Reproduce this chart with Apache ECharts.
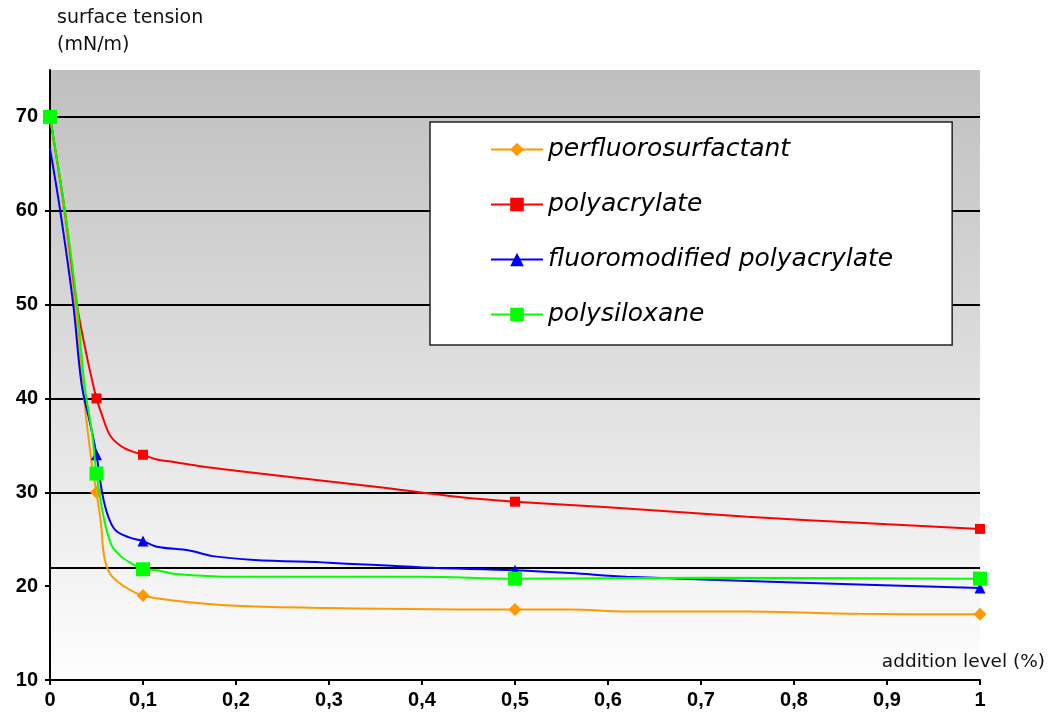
<!DOCTYPE html>
<html>
<head>
<meta charset="utf-8">
<script src="https://cdn.jsdelivr.net/npm/echarts@6/dist/echarts.min.js"></script>
<style>html,body{margin:0;padding:0;background:#fff}#c{width:1055px;height:722px}</style>
</head>
<body>
<div id="c"></div>
<script>
// ---- data ----
const seriesNames = ['perfluorosurfactant', 'polyacrylate', 'fluoromodified polyacrylate', 'polysiloxane'];
const markerX = [0, 0.05, 0.1, 0.5, 1];
const blueMarkerX = [0.05, 0.1, 0.5, 1];

const perfluoroCurve = [[0,70],[0.015,60],[0.027,50],[0.036,40.5],[0.045,33],[0.05,30],[0.055,26.5],[0.058,23.3],[0.064,21.4],[0.075,20.3],[0.088,19.5],[0.1,19],[0.13,18.5],[0.2,17.9],[0.28,17.7],[0.5,17.5],[0.56,17.5],[0.62,17.3],[0.75,17.3],[0.87,17.05],[1,17]];
const polyacrylateCurve = [[0,70],[0.016,60],[0.029,50],[0.04,44.3],[0.047,41.2],[0.05,40],[0.056,38.2],[0.065,36],[0.08,34.7],[0.1,34],[0.115,33.5],[0.135,33.2],[0.16,32.8],[0.2,32.3],[0.27,31.5],[0.35,30.6],[0.44,29.5],[0.5,29],[0.6,28.4],[0.75,27.4],[0.88,26.7],[1,26.1]];
const fluoroPolyCurve = [[0,66.6],[0.011,60],[0.025,50],[0.034,41.5],[0.043,37.4],[0.05,34],[0.056,30],[0.062,27.6],[0.07,26],[0.085,25.2],[0.1,24.8],[0.115,24.2],[0.15,23.8],[0.175,23.2],[0.22,22.8],[0.3,22.5],[0.4,22.0],[0.5,21.7],[0.56,21.4],[0.62,21.0],[0.8,20.4],[1,19.8]];
const polysiloxaneCurve = [[0,70],[0.016,60],[0.029,50],[0.037,41.5],[0.045,36.5],[0.05,32],[0.058,27.2],[0.066,24.4],[0.076,23.2],[0.088,22.4],[0.1,21.8],[0.115,21.7],[0.135,21.3],[0.2,21],[0.4,21],[0.5,20.8],[0.7,20.9],[1,20.8]];

const yTicks = [10, 20, 30, 40, 50, 60, 70];
const gridLineValues = [22, 30, 40, 50, 60, 70];
const yAxisTitle = 'surface tension\n(mN/m)';
const xAxisTitle = 'addition level (%)';

// ---- build ----
function buildData(curve, marks) {
  return curve.map(p => marks.indexOf(p[0]) >= 0 ? { value: p } : { value: p, symbol: 'none' });
}
const colors = ['#FF9900', '#FF0000', '#0000FF', '#00FF00'];
const symbols = ['diamond', 'rect', 'triangle', 'rect'];
const symbolSizes = [13, 10, 11, 14];
const curves = [perfluoroCurve, polyacrylateCurve, fluoroPolyCurve, polysiloxaneCurve];
const marks = [markerX, markerX, blueMarkerX, markerX];

const series = [{
  type: 'line', name: '_grid', data: [], z: 1, silent: true,
  markLine: {
    silent: true, symbol: 'none', z: 1, animation: false,
    label: { show: false },
    lineStyle: { color: '#000', width: 2, type: 'solid' },
    data: gridLineValues.map(v => ({ yAxis: v }))
  }
}];
seriesNames.forEach((n, i) => {
  series.push({
    type: 'line', name: n, data: buildData(curves[i], marks[i]),
    smooth: 0.35,
    symbol: symbols[i], symbolSize: symbolSizes[i], showSymbol: true,
    lineStyle: { color: colors[i], width: 2 },
    itemStyle: { color: colors[i] },
    z: 3 + i, animation: false
  });
});

const chart = echarts.init(document.getElementById('c'), null, { renderer: 'canvas' });
chart.setOption({
  animation: false,
  grid: {
    left: 50, right: 75, top: 70, bottom: 42, show: true, borderWidth: 0,
    backgroundColor: { type: 'linear', x: 0, y: 0, x2: 0, y2: 1,
      colorStops: [{ offset: 0, color: '#bfbfbf' }, { offset: 1, color: '#fefefe' }] }
  },
  legend: {
    data: seriesNames, orient: 'vertical', left: 430, top: 122,
    padding: [15, 59, 18, 60], itemGap: 30, itemWidth: 52, itemHeight: 17,
    backgroundColor: '#fff', borderColor: '#222', borderWidth: 1.5,
    textStyle: { fontFamily: 'DejaVu Sans', fontStyle: 'italic', fontSize: 25, lineHeight: 25, color: '#000' }
  },
  xAxis: {
    type: 'value', min: 0, max: 1, interval: 0.1,
    axisLine: { show: true, lineStyle: { color: '#000', width: 2 } },
    axisTick: { show: true, length: 5, lineStyle: { color: '#000', width: 2 } },
    splitLine: { show: false },
    axisLabel: { margin: 10, color: '#000', fontFamily: 'Liberation Sans', fontWeight: 'bold', fontSize: 20,
      formatter: v => String(+v.toFixed(1)).replace('.', ',') }
  },
  yAxis: {
    type: 'value', min: 10, max: 75, interval: 10,
    axisLine: { show: true, lineStyle: { color: '#000', width: 2 } },
    axisTick: { show: true, length: 5, customValues: yTicks, lineStyle: { color: '#000', width: 2 } },
    splitLine: { show: false },
    axisLabel: { margin: 12, customValues: yTicks, color: '#000', fontFamily: 'Liberation Sans', fontWeight: 'bold', fontSize: 20 }
  },
  graphic: [
    { type: 'text', left: 57, top: 5, style: { text: yAxisTitle, fontFamily: 'DejaVu Sans', fontSize: 19, lineHeight: 27, fill: '#111' } },
    { type: 'text', right: 10, top: 651, style: { text: xAxisTitle, fontFamily: 'DejaVu Sans', fontSize: 18.5, lineHeight: 22, fill: '#111' } }
  ],
  series: series
});
</script>
</body>
</html>
